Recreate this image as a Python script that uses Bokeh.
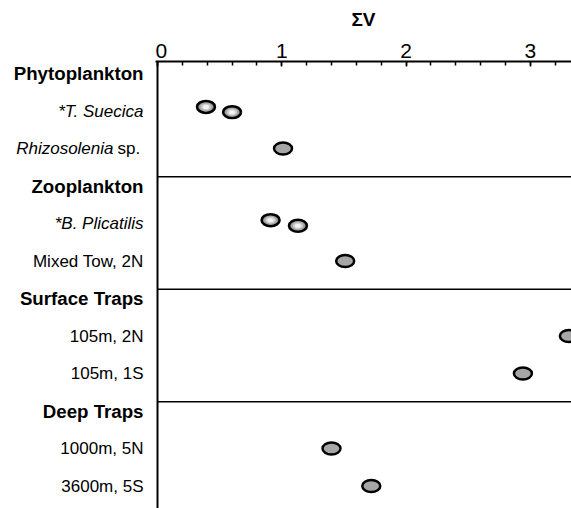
from bokeh.plotting import figure
from bokeh.models import Range1d, LinearAxis, FixedTicker, Span
from bokeh.layouts import row
from bokeh.embed import file_html
from bokeh.resources import INLINE
from bokeh.core.properties import value

# ---- data ----
categories = ["Phytoplankton", "*T. Suecica", "Rhizosolenia sp.",
              "Zooplankton", "*B. Plicatilis", "Mixed Tow, 2N",
              "Surface Traps", "105m, 2N", "105m, 1S",
              "Deep Traps", "1000m, 5N", "3600m, 5S"]
group_headers = ["Phytoplankton", "Zooplankton", "Surface Traps", "Deep Traps"]
italic_labels = ["*T. Suecica", "*B. Plicatilis"]
plain_labels = ["Mixed Tow, 2N", "105m, 2N", "105m, 1S", "1000m, 5N", "3600m, 5S"]

shaded_rows = ["*T. Suecica", "*T. Suecica", "*B. Plicatilis", "*B. Plicatilis"]
shaded_vals = [0.39, 0.60, 0.91, 1.13]
shaded_jitter = [-0.11, 0.03, -0.09, 0.06]

plain_rows = ["Rhizosolenia sp.", "Mixed Tow, 2N", "105m, 2N", "105m, 1S", "1000m, 5N", "3600m, 5S"]
plain_vals = [1.01, 1.51, 3.31, 2.94, 1.40, 1.72]

x_ticks = [0, 1, 2, 3]
x_title = "ΣV"

FONT = "Liberation Sans"
idx = {c: i for i, c in enumerate(categories)}
yr = Range1d(start=11.6, end=-0.32)

# ---- label panel ----
lab = figure(width=155, height=508, x_range=Range1d(0, 155), y_range=yr,
             output_backend="svg", toolbar_location=None,
             min_border_top=61, min_border_bottom=0, min_border_left=0, min_border_right=0)
lab.axis.visible = False
lab.grid.visible = False
lab.outline_line_color = None
XR = 143
HS = "18.7px"
IS = "17px"
lab.text(x=[XR] * len(group_headers), y=[idx[g] for g in group_headers], text=group_headers,
         text_align="right", text_baseline="middle", text_font=value(FONT),
         text_font_style="bold", text_font_size=HS, text_color="black")
lab.text(x=[XR] * len(italic_labels), y=[idx[g] for g in italic_labels], text=italic_labels,
         text_align="right", text_baseline="middle", text_font=value(FONT),
         text_font_style="italic", text_font_size=IS, text_color="black")
lab.text(x=[XR] * len(plain_labels), y=[idx[g] for g in plain_labels], text=plain_labels,
         text_align="right", text_baseline="middle", text_font=value(FONT),
         text_font_size=IS, text_color="black")
lab.text(x=[113], y=[idx["Rhizosolenia sp."]], text=["Rhizosolenia"],
         text_align="right", text_baseline="middle", text_font=value(FONT),
         text_font_style="italic", text_font_size=IS, text_color="black")
lab.text(x=[117], y=[idx["Rhizosolenia sp."]], text=["sp."],
         text_align="left", text_baseline="middle", text_font=value(FONT),
         text_font_size=IS, text_color="black")

# ---- plot panel ----
p = figure(width=416, height=508, x_range=Range1d(-2 / 124.3, 3.331), y_range=yr,
           output_backend="svg", toolbar_location=None, x_axis_location=None,
           min_border_top=61, min_border_bottom=0, min_border_left=0, min_border_right=0)
p.yaxis.visible = False
p.grid.visible = False
p.outline_line_color = None

ax = LinearAxis(ticker=FixedTicker(ticks=x_ticks, minor_ticks=[i * 0.2 for i in range(17)]),
                axis_label=x_title)
ax.axis_line_width = 2
ax.axis_line_color = "black"
ax.major_tick_in = 5
ax.major_tick_out = 0
ax.minor_tick_in = 4
ax.minor_tick_out = 0
ax.major_tick_line_width = 1.5
ax.minor_tick_line_width = 1.5
ax.major_label_text_font = FONT
ax.major_label_text_font_size = "21px"
ax.major_label_text_color = "black"
ax.major_label_standoff = 4
ax.axis_label_text_font = FONT
ax.axis_label_text_font_style = "bold"
ax.axis_label_text_font_size = "19px"
ax.axis_label_standoff = 11
ax.axis_label_text_color = "black"
p.add_layout(ax, "above")

p.add_layout(Span(location=0, dimension="height", line_color="black", line_width=2))
sep_y = [idx[g] - 0.25 for g in group_headers[1:]]
p.segment(x0=[0] * len(sep_y), x1=[p.x_range.end] * len(sep_y), y0=sep_y, y1=sep_y,
          line_color="black", line_width=1.5)

# plain markers
py = [idx[r] for r in plain_rows]
p.ellipse(x=plain_vals, y=py, width=18, height=12, width_units="screen", height_units="screen",
          fill_color="#a6a6a6", line_color="black", line_width=2.5)

# shaded markers (layered to mimic radial gradient)
sy = [idx[r] + j for r, j in zip(shaded_rows, shaded_jitter)]
p.ellipse(x=shaded_vals, y=sy, width=18, height=12, width_units="screen", height_units="screen",
          fill_color="#7a7a7a", line_color="black", line_width=2.5)
for w, h, c in [(14, 9, "#a8a8a8"), (10, 6.5, "#d0d0d0"), (6, 4, "#f4f4f4")]:
    p.ellipse(x=shaded_vals, y=sy, width=w, height=h, width_units="screen", height_units="screen",
              fill_color=c, line_color=None)

layout = row(lab, p)
open("out.html", "w").write(file_html(layout, INLINE))
